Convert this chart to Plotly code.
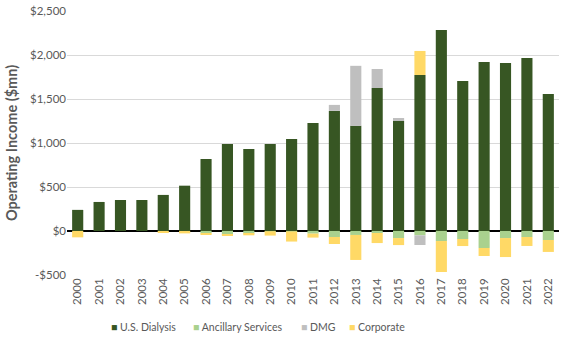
import plotly.graph_objects as go

years = [str(y) for y in range(2000, 2023)]
us_dialysis = [240, 330, 352, 352, 410, 515, 818, 990, 932, 990, 1045, 1228, 1365, 1195, 1625, 1250, 1773, 2284, 1705, 1921, 1909, 1966, 1557]
ancillary = [0, 0, 0, 0, 0, 0, -27, -42, -30, -3, -5, -30, -68, -45, -23, -80, -49, -114, -91, -193, -80, -68, -102]
dmg = [0, 0, 0, 0, 0, 0, 0, 0, 0, 0, 0, 0, 68, 682, 216, 34, -110, 0, 0, 0, 0, 0, 0]
corporate = [-72, 0, 0, 0, -15, -27, -11, -8, -19, -49, -115, -45, -80, -284, -114, -80, 273, -352, -80, -91, -216, -102, -136]

y_tick_vals = [-500, 0, 500, 1000, 1500, 2000, 2500]
y_tick_text = ["-$500", "$0", "$500", "$1,000", "$1,500", "$2,000", "$2,500"]

series = [
    ("U.S. Dialysis", us_dialysis, "#375623"),
    ("Ancillary Services", ancillary, "#A9D18E"),
    ("DMG", dmg, "#BFBFBF"),
    ("Corporate", corporate, "#FFD966"),
]

fig = go.Figure()
for name, vals, col in series:
    fig.add_trace(go.Bar(x=years, y=vals, name=name, marker=dict(color=col, line=dict(width=0))))

W, H = 570, 342
ML, MR, MT, MB = 67, 11, 11, 67
font_family = "Lato, Liberation Sans, sans-serif"

# legend built as text annotations (compact spacing like the original)
legend_x_px = [109, 191, 299, 347]
annotations = []
for (name, _, col), px in zip(series, legend_x_px):
    annotations.append(dict(
        xref="paper", yref="paper",
        x=(px - ML) / (W - ML - MR), y=-(327 - (H - MB)) / (H - MT - MB),
        xanchor="left", yanchor="middle", showarrow=False,
        text=f'<span style="color:{col}">■</span> {name}',
        font=dict(size=10.5, color="#595959", family=font_family),
    ))

fig.update_layout(
    barmode="relative",
    bargap=0.48,
    width=W, height=H,
    margin=dict(l=ML, r=MR, t=MT, b=MB, autoexpand=False),
    paper_bgcolor="white", plot_bgcolor="white",
    font=dict(family=font_family, color="#595959", size=11),
    showlegend=False,
    annotations=annotations,
    xaxis=dict(type="category", tickangle=-90, tickfont=dict(size=11.5, color="#595959"),
               showgrid=False, showline=False, ticks="", automargin=False),
    yaxis=dict(range=[-500, 2500], tickvals=y_tick_vals, ticktext=y_tick_text,
               showgrid=True, gridcolor="#D9D9D9", gridwidth=1,
               zeroline=True, zerolinecolor="#000000", zerolinewidth=1.5,
               tickfont=dict(size=11.5, color="#595959"), automargin=False,
               title=dict(text="<b>Operating Income ($mn)</b>", font=dict(size=14.5, color="#595959"), standoff=8)),
)

fig.write_html("out.html")
